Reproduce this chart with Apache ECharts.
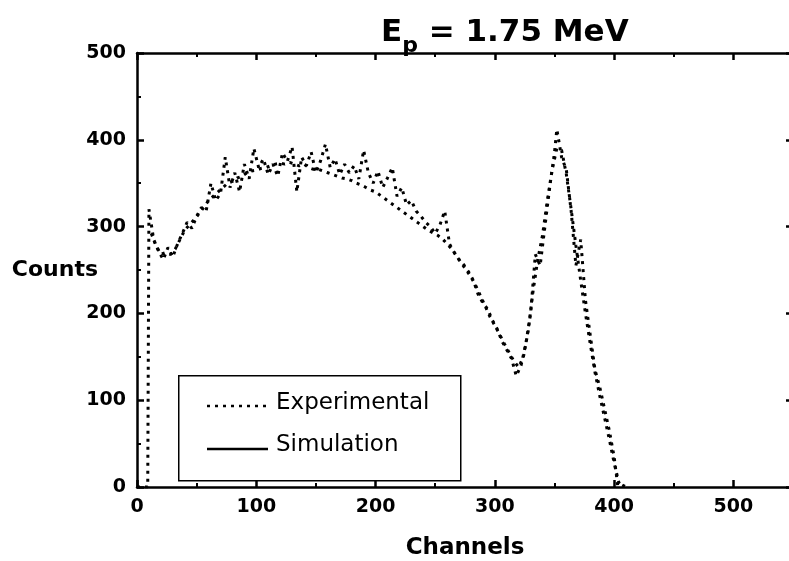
<!DOCTYPE html>
<html>
<head>
<meta charset="utf-8">
<script src="https://cdn.jsdelivr.net/npm/echarts@6/dist/echarts.min.js"></script>
<style>
html,body{margin:0;padding:0;background:#fff;}
#chart{width:789px;height:561px;}
</style>
</head>
<body>
<div id="chart"></div>
<script>
// ---- data ----
const expChannels = [0, 9, 10, 14, 18, 22, 26, 30, 34, 38, 42, 46, 50, 54, 58, 62, 66, 70, 74, 78, 82, 86, 90, 94, 98, 102, 106, 110, 114, 118, 122, 126, 130, 134, 138, 142, 146, 150, 154, 158, 162, 166, 170, 174, 178, 182, 186, 190, 194, 198, 202, 206, 210, 214, 218, 222, 226, 230, 234, 238, 242, 246, 250, 254, 258, 262, 266, 270, 274, 278, 282, 286, 290, 294, 298, 302, 306, 310, 314, 318, 322, 326, 330, 334, 338, 342, 346, 350, 352, 356, 360, 364, 368, 372, 376, 380, 384, 388, 392, 396, 400, 403, 406, 410];
const expCounts = [0, 0, 320, 285, 272, 262, 276, 265, 280, 292, 305, 298, 312, 322, 318, 350, 330, 338, 380, 345, 362, 340, 372, 355, 390, 368, 378, 360, 372, 358, 385, 375, 392, 340, 380, 370, 386, 362, 376, 395, 368, 378, 360, 372, 362, 370, 355, 388, 362, 350, 364, 345, 356, 368, 335, 345, 325, 330, 318, 312, 305, 300, 292, 302, 318, 280, 270, 262, 256, 248, 238, 222, 212, 205, 192, 182, 168, 158, 148, 128, 140, 165, 200, 268, 255, 300, 345, 385, 412, 380, 365, 318, 255, 285, 215, 175, 135, 115, 90, 65, 35, 2, 3, 0];

const simChannels = [12, 16, 20, 24, 28, 32, 36, 40, 44, 48, 52, 56, 60, 64, 68, 72, 76, 80, 84, 88, 92, 96, 100, 104, 108, 112, 116, 120, 124, 128, 132, 136, 140, 144, 148, 152, 156, 160, 164, 168, 172, 176, 180, 184, 188, 192, 196, 200, 204, 208, 212, 216, 220, 224, 228, 232, 236, 240, 244, 248, 252, 256, 260, 264, 268, 272, 276, 280, 284, 288, 292, 296, 300, 304, 308, 312, 316, 320, 324, 328, 332, 336, 340, 344, 348, 352, 356, 360, 364, 368, 372, 376, 380, 384, 388, 392, 396, 400, 404, 408];
const simCounts = [292, 278, 268, 270, 268, 274, 285, 296, 302, 308, 315, 322, 330, 335, 340, 345, 350, 352, 356, 358, 362, 364, 365, 367, 368, 370, 372, 373, 372, 374, 372, 370, 372, 368, 366, 366, 364, 362, 360, 358, 356, 355, 353, 350, 348, 345, 342, 340, 336, 332, 328, 324, 320, 316, 312, 308, 304, 300, 296, 293, 290, 286, 280, 274, 266, 258, 250, 242, 232, 220, 208, 196, 186, 176, 165, 155, 145, 138, 150, 180, 225, 262, 290, 330, 365, 390, 388, 360, 320, 278, 238, 200, 165, 132, 105, 80, 55, 28, 5, 0];

const xTicks = [0, 100, 200, 300, 400, 500];
const yTicks = [0, 100, 200, 300, 400, 500];
const seriesNames = ['Experimental', 'Simulation'];
const titleMain = 'E';
const titleSub = 'p';
const titleRest = ' = 1.75 MeV';
const xName = 'Channels';
const yName = 'Counts';

// ---- chart ----
const chart = echarts.init(document.getElementById('chart'), null, {renderer: 'canvas'});
const FONT = '"DejaVu Sans", "Liberation Sans", Arial, sans-serif';
const axisCommon = {
  type: 'value',
  axisLine: {show: true, onZero: false, lineStyle: {color: '#000', width: 2.5}},
  axisTick: {show: true, inside: true, length: 7, lineStyle: {color: '#000', width: 2.5}},
  minorTick: {show: true, splitNumber: 2, length: 4, lineStyle: {color: '#000', width: 2}},
  splitLine: {show: false},
  minorSplitLine: {show: false}
};
const labelStyle = {color: '#000', fontFamily: FONT, fontWeight: 'bold', fontSize: 19};

function pairs(xs, ys) { return xs.map((x, i) => [x, ys[i]]); }

const option = {
  backgroundColor: '#fff',
  animation: false,
  title: {
    text: '{a|' + titleMain + '}{s|' + titleSub + '}{a|' + titleRest + '}',
    left: 376, top: 4,
    textStyle: {
      rich: {
        a: {fontFamily: FONT, fontWeight: 'bold', fontSize: 31, color: '#000', lineHeight: 36},
        s: {fontFamily: FONT, fontWeight: 'bold', fontSize: 22, color: '#000', padding: [26, 0, 0, 0]}
      }
    }
  },
  grid: {left: 137, top: 53, width: 656, height: 434, outerBoundsMode: 'none', containLabel: false},
  xAxis: [
    Object.assign({}, axisCommon, {
      position: 'bottom', min: 0, max: 550, interval: 100,
      axisLabel: Object.assign({}, labelStyle, {margin: 11, showMaxLabel: false,
        formatter: v => xTicks.indexOf(v) >= 0 ? String(v) : ''}),
      name: xName, nameLocation: 'middle', nameGap: 50, nameMoveOverlap: false,
      nameTextStyle: {color: '#000', fontFamily: FONT, fontWeight: 'bold', fontSize: 23}
    }),
    Object.assign({}, axisCommon, {
      position: 'top', min: 0, max: 550, interval: 100,
      axisLabel: {show: false}
    })
  ],
  yAxis: [
    Object.assign({}, axisCommon, {
      position: 'left', min: 0, max: 500, interval: 100,
      axisLabel: Object.assign({}, labelStyle, {margin: 11,
        formatter: v => yTicks.indexOf(v) >= 0 ? String(v) : ''}),
      name: yName, nameLocation: 'middle', nameRotate: 0, nameGap: 39, nameMoveOverlap: false,
      nameTextStyle: {color: '#000', fontFamily: FONT, fontWeight: 'bold', fontSize: 22}
    }),
    Object.assign({}, axisCommon, {
      position: 'right', min: 0, max: 500, interval: 100,
      axisLabel: {show: false}
    })
  ],
  series: [
    {
      name: seriesNames[0], type: 'line', xAxisIndex: 0, yAxisIndex: 0,
      data: pairs(expChannels, expCounts), showSymbol: false, symbol: 'none',
      lineStyle: {color: '#000', width: 3, type: [3, 5], cap: 'butt'}
    },
    {
      name: seriesNames[1], type: 'line', xAxisIndex: 0, yAxisIndex: 0,
      data: pairs(simChannels, simCounts), showSymbol: false, symbol: 'none',
      lineStyle: {color: '#000', width: 3, type: [3, 5], cap: 'butt'}
    }
  ],
  graphic: [
    {type: 'rect', left: 178, top: 375, shape: {width: 282, height: 105},
     style: {fill: '#fff', stroke: '#000', lineWidth: 1.5}, z: 100},
    {type: 'line', shape: {x1: 207, y1: 406, x2: 266, y2: 406},
     style: {stroke: '#000', lineWidth: 2.5, lineDash: [3, 5]}, z: 101},
    {type: 'text', left: 276, top: 392, z: 101,
     style: {text: seriesNames[0], fill: '#000', font: '23px ' + FONT}},
    {type: 'line', shape: {x1: 207, y1: 449, x2: 268, y2: 449},
     style: {stroke: '#000', lineWidth: 2.5}, z: 101},
    {type: 'text', left: 276, top: 434, z: 101,
     style: {text: seriesNames[1], fill: '#000', font: '23px ' + FONT}}
  ]
};
chart.setOption(option);
</script>
</body>
</html>
